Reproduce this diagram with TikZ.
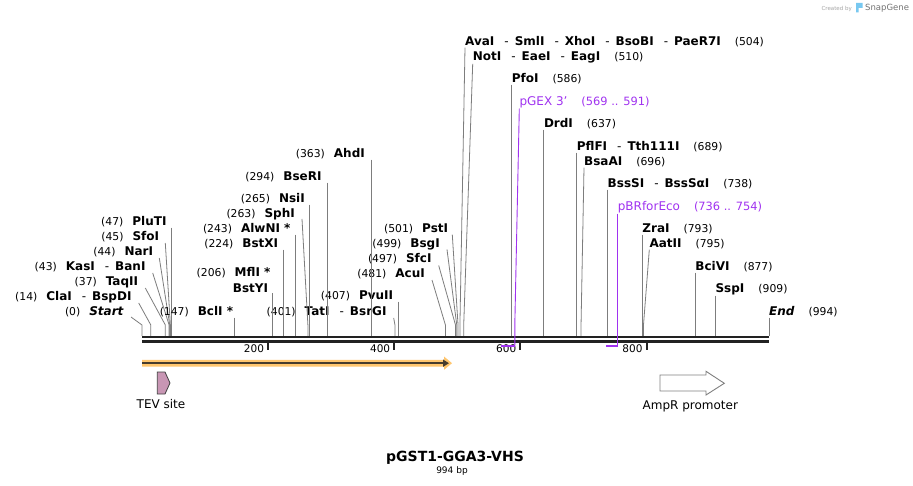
\documentclass[tikz,border=0pt]{standalone}
\usepackage{fontspec}
\setmainfont{DejaVu Sans}
\usepackage{xcolor}
\usetikzlibrary{arrows.meta}

\definecolor{cutgray}{RGB}{125,125,125}
\definecolor{primer}{RGB}{160,50,240}
\definecolor{orf}{RGB}{255,198,110}
\definecolor{orfdark}{RGB}{70,60,45}
\definecolor{tev}{RGB}{200,150,180}
\definecolor{spine}{RGB}{34,34,34}
\definecolor{snap}{RGB}{120,200,240}

\newcommand{\loc}[1]{{\fontsize{10.8}{13}\selectfont\mdseries\upshape(#1)}}
\newcommand{\sepd}{\hspace{10pt}{\mdseries -}\hspace{6pt}}
\newcommand{\sgap}{\hspace{9pt}}
\newcommand{\ngap}{\hspace{14pt}}

\tikzset{
	lbl/.style={inner sep=0pt, font=\fontsize{12}{14}\selectfont\bfseries},
	plbl/.style={inner sep=0pt, text=primer, font=\fontsize{12}{14}\selectfont},
	flbl/.style={inner sep=0pt, font=\fontsize{12}{14}\selectfont},
	tlbl/.style={inner sep=0pt, font=\fontsize{10.5}{12}\selectfont},
	cut/.style={cutgray, line width=0.8pt},
	prm/.style={primer, line width=0.9pt},
}

\begin{document}
\begin{tikzpicture}[x=1pt,y=-1pt]
	\fill[white] (0,0) rectangle (913,486);
	\foreach \p in {0,14,37,43,44,45,47,147,206,224,243,263,265,294,363,401,407,481,497,499,501,504,510,586,637,689,696,738,793,795,877,909,994}
		\coordinate (p\p) at ({142+0.6308*\p},336);
	\foreach \p in {569,591,736,754}
		\coordinate (q\p) at ({142+0.6308*\p},345.5);
	
	% left stack
	\node[lbl, anchor=base east] (Start) at (124,316) {\loc{0}\sgap\textit{Start}};
	\node[lbl, anchor=base east] (ClaI) at (131.7,301) {\loc{14}\sgap ClaI\sepd BspDI};
	\node[lbl, anchor=base east] (TaqII) at (138.3,286) {\loc{37}\sgap TaqII};
	\node[lbl, anchor=base east] (KasI) at (145.7,271) {\loc{43}\sgap KasI\sepd BanI};
	\node[lbl, anchor=base east] (NarI) at (153.3,256) {\loc{44}\sgap NarI};
	\node[lbl, anchor=base east] (SfoI) at (159.3,241) {\loc{45}\sgap SfoI};
	\node[lbl, anchor=base east] (PluTI) at (166.7,226) {\loc{47}\sgap PluTI};
	
	\draw[cut] (Start.base east) ++(7,1) -- (p0 |- 0,325) -- (p0);
	\draw[cut] (ClaI.base east) ++(7,2) -- (p14 |- 0,325) -- (p14);
	\draw[cut] (TaqII.base east) ++(7,2) -- (p37 |- 0,325) -- (p37);
	\draw[cut] (KasI.base east) ++(7,2) -- (p43 |- 0,325) -- (p43);
	\draw[cut] (NarI.base east) ++(6,2) -- (p44 |- 0,325) -- (p44);
	\draw[cut] (SfoI.base east) ++(6,2) -- (p45 |- 0,325) -- (p45);
	\draw[cut] (p47 |- PluTI.south) -- (p47);
	
	% middle
	\node[lbl, anchor=base east] (BclI) at (233.3,316) {\loc{147}\sgap BclI *};
	\node[lbl, anchor=base east] (MflI) at (270.7,277) {\loc{206}\sgap MflI *};
	\node[lbl, anchor=base east] (BstYI) at (268.3,293) {BstYI};
	\node[lbl, anchor=base east] (BstXI) at (278.3,248) {\loc{224}\sgap BstXI};
	\node[lbl, anchor=base east] (AlwNI) at (290.7,233) {\loc{243}\sgap AlwNI *};
	\node[lbl, anchor=base east] (SphI) at (295,218) {\loc{263}\sgap SphI};
	\node[lbl, anchor=base east] (NsiI) at (305,203) {\loc{265}\sgap NsiI};
	\node[lbl, anchor=base east] (BseRI) at (321.7,181) {\loc{294}\sgap BseRI};
	\node[lbl, anchor=base east] (AhdI) at (365,158) {\loc{363}\sgap AhdI};
	\node[lbl, anchor=base east] (TatI) at (386.7,316) {\loc{401}\sgap TatI\sepd BsrGI};
	\node[lbl, anchor=base east] (PvuII) at (393.3,300) {\loc{407}\sgap PvuII};
	\node[lbl, anchor=base east] (AcuI) at (425,278) {\loc{481}\sgap AcuI};
	\node[lbl, anchor=base east] (SfcI) at (431.7,262.5) {\loc{497}\sgap SfcI};
	\node[lbl, anchor=base east] (BsgI) at (440,247.5) {\loc{499}\sgap BsgI};
	\node[lbl, anchor=base east] (PstI) at (448.3,232.7) {\loc{501}\sgap PstI};
	
	\draw[cut] (p147 |- BclI.south) -- (p147);
	\draw[cut] (p206 |- BstYI.south) -- (p206);
	\draw[cut] (p224 |- BstXI.south) -- (p224);
	\draw[cut] (p243 |- AlwNI.south) -- (p243);
	\draw[cut] (SphI.base east) ++(7,1) -- (p263 |- 0,325) -- (p263);
	\draw[cut] (p265 |- NsiI.south) -- (p265);
	\draw[cut] (p294 |- BseRI.south) -- (p294);
	\draw[cut] (p363 |- AhdI.south) -- (p363);
	\draw[cut] (TatI.base east) ++(7,2) -- (p401 |- 0,325) -- (p401);
	\draw[cut] (p407 |- PvuII.south) -- (p407);
	\draw[cut] (AcuI.base east) ++(7,2) -- (p481 |- 0,325) -- (p481);
	\draw[cut] (SfcI.base east) ++(7,3) -- (p497 |- 0,325) -- (p497);
	\draw[cut] (BsgI.base east) ++(7,2) -- (p499 |- 0,325) -- (p499);
	\draw[cut] (PstI.base east) ++(4,2) -- (p501 |- 0,325) -- (p501);
	
	% right
	\node[lbl, anchor=base west] (AvaI) at (465,46) {AvaI\sepd SmlI\sepd XhoI\sepd BsoBI\sepd PaeR7I\ngap\loc{504}};
	\node[lbl, anchor=base west] (NotI) at (472.7,61) {NotI\sepd EaeI\sepd EagI\ngap\loc{510}};
	\node[lbl, anchor=base west] (PfoI) at (p586 |- 0,83) {PfoI\ngap\loc{586}};
	\node[plbl, anchor=base west] (pGEX) at (519.3,106) {pGEX 3'\ngap{\fontsize{11.4}{13}\selectfont(569 .. 591)}};
	\node[lbl, anchor=base west] (DrdI) at (p637 |- 0,128) {DrdI\ngap\loc{637}};
	\node[lbl, anchor=base west] (PflFI) at (p689 |- 0,151) {PflFI\sepd Tth111I\ngap\loc{689}};
	\node[lbl, anchor=base west] (BsaAI) at (584,166) {BsaAI\ngap\loc{696}};
	\node[lbl, anchor=base west] (BssSI) at (p738 |- 0,188) {BssSI\sepd BssSαI\ngap\loc{738}};
	\node[plbl, anchor=base west] (pBR) at (q754 |- 0,211) {pBRforEco\ngap{\fontsize{11.4}{13}\selectfont(736 .. 754)}};
	\node[lbl, anchor=base west] (ZraI) at (p793 |- 0,233) {ZraI\ngap\loc{793}};
	\node[lbl, anchor=base west] (AatII) at (649.3,248) {AatII\ngap\loc{795}};
	\node[lbl, anchor=base west] (BciVI) at (p877 |- 0,271) {BciVI\ngap\loc{877}};
	\node[lbl, anchor=base west] (SspI) at (p909 |- 0,293) {SspI\ngap\loc{909}};
	\node[lbl, anchor=base west] (End) at (p994 |- 0,316) {\textit{End}\ngap\loc{994}};
	
	\draw[cut] (AvaI.south west) -- (p504 |- 0,325) -- (p504);
	\draw[cut] (NotI.south west) -- (p510 |- 0,325) -- (p510);
	\draw[cut] (PfoI.south west) -- (p586);
	\draw[cut] (DrdI.south west) -- (p637);
	\draw[cut] (PflFI.south west) -- (p689);
	\draw[cut] (BsaAI.south west) -- (p696 |- 0,325) -- (p696);
	\draw[cut] (BssSI.south west) -- (p738);
	\draw[cut] (ZraI.south west) -- (p793);
	\draw[cut] (AatII.south west) -- (p795 |- 0,325) -- (p795);
	\draw[cut] (BciVI.south west) -- (p877);
	\draw[cut] (SspI.south west) -- (p909);
	\draw[cut] (End.south west) -- (p994);
	
	% backbone and ticks
	\draw[spine, line width=2.2pt] (p0 |- 0,337) -- (p994 |- 0,337);
	\draw[spine, line width=2.6pt] (p0 |- 0,341.4) -- (p994 |- 0,341.4);
	\foreach \t in {200,400,600,800} {
		\coordinate (t\t) at ({142+0.6308*\t},343);
		\draw[spine, line width=2pt] (t\t) -- ++(0,7);
		\node[tlbl, anchor=base east] (n\t) at ({142+0.6308*\t-4},352.7) {\t};
	}
	
	% primers
	\draw[prm] (pGEX.south west) -- (q591 |- 0,325) -- (q591);
	\draw[primer, line width=2pt] (q569) -- (q591);
	\draw[prm] (pBR.south west) -- (q754);
	\draw[primer, line width=2pt] (q736) -- (q754);
	
	% features
	\fill[orf] (142,359.8) -- (444,359.8) -- (444,356.5) -- (452,363.2) -- (444,369.8) -- (444,366.6) -- (142,366.6) -- cycle;
	\draw[orfdark, line width=2pt, -{Triangle[length=6pt,width=7pt]}] (142,363.2) -- (449,363.2);
	
	\draw[black!75, line width=0.8pt, fill=tev] (157.3,372) -- (165,372) -- (170,383) -- (165,394) -- (157.3,394) -- cycle;
	\node[flbl, anchor=base] (TEV) at (161,408.3) {TEV site};
	
	\draw[black!50, line width=0.9pt, fill=white] (660,375) -- (706,375) -- (706,371.3) -- (724.3,383.3) -- (706,395) -- (706,391) -- (660,391) -- cycle;
	\node[flbl, anchor=base] (AmpR) at (690.3,409) {AmpR promoter};
	
	% title
	\node[inner sep=0pt, anchor=base, font=\fontsize{14}{16}\selectfont\bfseries] (title) at (455,461) {pGST1-GGA3-VHS};
	\node[inner sep=0pt, anchor=base, font=\fontsize{9}{11}\selectfont] (size) at (452,473.3) {994 bp};
	
	% credit
	\node[inner sep=0pt, anchor=base east, text=black!35, font=\fontsize{5.5}{7}\selectfont] (made) at (852,10.5) {Created by};
	\fill[snap] (856,3) rectangle (862.5,8) (856,8) rectangle (858.5,12.5);
	\node[inner sep=0pt, anchor=base west, text=black!55, font=\fontsize{8.5}{10}\selectfont] (snapgene) at (865,11) {SnapGene};
\end{tikzpicture}
\end{document}
